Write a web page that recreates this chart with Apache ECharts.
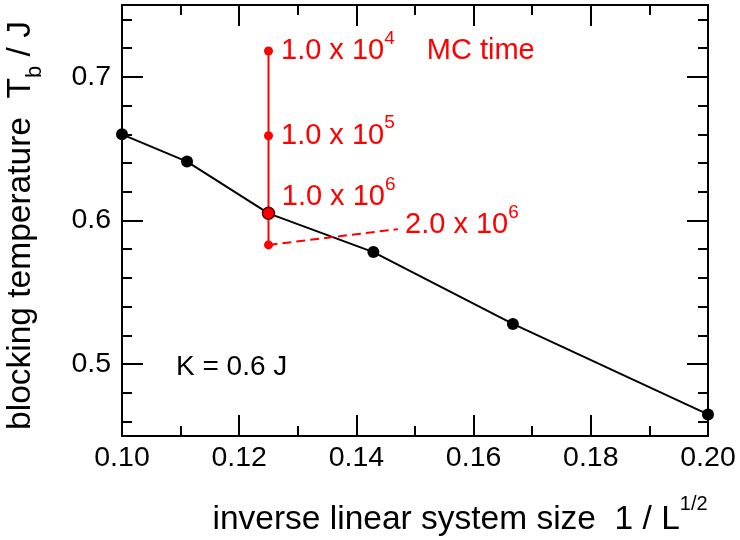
<!DOCTYPE html>
<html><head><meta charset="utf-8">
<script src="https://cdn.jsdelivr.net/npm/echarts@6/dist/echarts.min.js"></script>
<style>html,body{margin:0;padding:0;background:#fff}#c{width:740px;height:540px}</style>
</head><body><div id="c"></div>
<script>
const xMajorTicks = [0.10, 0.12, 0.14, 0.16, 0.18, 0.20];
const xMinorTicks = [0.11, 0.13, 0.15, 0.17, 0.19];
const yMajorTicks = [0.5, 0.6, 0.7];
const yMinorTicks = [0.46, 0.48, 0.52, 0.54, 0.56, 0.58, 0.62, 0.64, 0.66, 0.68, 0.72, 0.74];

const sizeX = [0.1000, 0.1111, 0.1250, 0.1429, 0.1667, 0.2000];
const blockingT = [0.660, 0.641, 0.605, 0.578, 0.528, 0.465];

const mcX = [0.125, 0.125, 0.125, 0.125];
const mcT = [0.718, 0.659, 0.605, 0.583];
const mcLabels = ['1.0 x 10{sup|4}{gap|MC time}', '1.0 x 10{sup|5}', '1.0 x 10{sup|6}', ''];

const dashX = [0.125, 0.1471];
const dashT = [0.583, 0.594];
const dashLabel = '2.0 x 10{sup|6}';

const annotation = 'K = 0.6 J';
const xTitle = 'inverse linear system size  1 / L{sup|1/2}';
const yTitle = 'blocking temperature  T{sub|b} / J';

const FONT = '"Liberation Sans", Arial, Helvetica, sans-serif';
const RED = '#ff0000';
const BLACK = '#000';

const chart = echarts.init(document.getElementById('c'), null, {renderer: 'canvas'});

const gridBox = {left: 122, right: 32, top: 5, bottom: 104, containLabel: false, outerBoundsMode: 'none'};
const lineSt = {color: BLACK, width: 2};

function xAx(grid, pos, ticks, len, labels, lineShow) {
  return {
    type: 'value', gridIndex: grid, position: pos, min: 0.1, max: 0.2,
    axisLine: {show: lineShow, onZero: false, lineStyle: lineSt},
    axisTick: {show: true, inside: true, length: len, customValues: ticks, lineStyle: lineSt},
    axisLabel: labels ? {show: true, customValues: ticks, fontSize: 28.5, lineHeight: 28.5, margin: 8,
      color: BLACK, fontFamily: FONT, formatter: v => v.toFixed(2)} : {show: false},
    splitLine: {show: false}
  };
}
function yAx(grid, pos, ticks, len, labels, lineShow) {
  return {
    type: 'value', gridIndex: grid, position: pos, min: 0.45, max: 0.75,
    axisLine: {show: lineShow, onZero: false, lineStyle: lineSt},
    axisTick: {show: true, inside: true, length: len, customValues: ticks, lineStyle: lineSt},
    axisLabel: labels ? {show: true, customValues: ticks, fontSize: 28.5, margin: 11,
      color: BLACK, fontFamily: FONT, formatter: v => v.toFixed(1)} : {show: false},
    splitLine: {show: false}
  };
}

const xAxes = [
  xAx(0, 'bottom', xMajorTicks, 21, true, true),
  xAx(0, 'top', xMajorTicks, 21, false, true),
  xAx(1, 'bottom', xMinorTicks, 10, false, false),
  xAx(1, 'top', xMinorTicks, 10, false, false)
];
Object.assign(xAxes[0], {
  name: xTitle, nameLocation: 'middle', nameGap: 58,
  nameTextStyle: {fontSize: 33.5, lineHeight: 52, color: BLACK, fontFamily: FONT, padding: [0, 0, 0, 90],
    rich: {sup: {fontSize: 20, lineHeight: 20, verticalAlign: 'top', color: BLACK, fontFamily: FONT}}}
});
const yAxes = [
  yAx(0, 'left', yMajorTicks, 21, true, true),
  yAx(0, 'right', yMajorTicks, 21, false, true),
  yAx(1, 'left', yMinorTicks, 10, false, false),
  yAx(1, 'right', yMinorTicks, 10, false, false)
];
Object.assign(yAxes[0], {
  name: yTitle, nameLocation: 'middle', nameGap: 76, nameRotate: 90,
  nameTextStyle: {fontSize: 33.5, lineHeight: 50, color: BLACK, fontFamily: FONT, padding: [0, 10, 0, 0],
    rich: {sub: {fontSize: 22, lineHeight: 22, verticalAlign: 'bottom', color: BLACK, fontFamily: FONT}}}
});

const redRich = {
  sup: {fontSize: 19, lineHeight: 19, verticalAlign: 'top', color: RED, fontFamily: FONT},
  gap: {fontSize: 29, lineHeight: 44, padding: [0, 0, 0, 32], color: RED, fontFamily: FONT}
};
const redLabelBase = {show: true, position: 'right', fontSize: 29, lineHeight: 44, color: RED,
  fontFamily: FONT, rich: redRich};

const mcData = mcX.map((x, i) => {
  const item = {value: [x, mcT[i]]};
  if (mcLabels[i]) {
    item.label = Object.assign({}, redLabelBase, {formatter: mcLabels[i], distance: 8});
  } else {
    item.label = {show: false};
  }
  if (i === 2) {
    item.symbolSize = 12;
    item.itemStyle = {color: RED, borderColor: '#5a0000', borderWidth: 1.5};
    item.label.distance = 6.5;
    item.label.offset = [0, -16];
  }
  return item;
});

const option = {
  animation: false,
  backgroundColor: '#fff',
  grid: [Object.assign({}, gridBox), Object.assign({}, gridBox)],
  xAxis: xAxes,
  yAxis: yAxes,
  series: [
    {
      type: 'line', xAxisIndex: 0, yAxisIndex: 0,
      data: sizeX.map((x, i) => [x, blockingT[i]]),
      symbol: 'circle', symbolSize: 12, clip: false,
      itemStyle: {color: BLACK}, lineStyle: {color: BLACK, width: 2}, z: 2
    },
    {
      type: 'line', xAxisIndex: 0, yAxisIndex: 0,
      data: dashX.map((x, i) => [x, dashT[i]]),
      symbol: 'none', clip: false,
      lineStyle: {color: RED, width: 2, type: [9, 5]},
      endLabel: Object.assign({}, redLabelBase, {formatter: dashLabel, distance: 7, offset: [0, -4]}),
      z: 3
    },
    {
      type: 'line', xAxisIndex: 0, yAxisIndex: 0,
      data: mcData,
      symbol: 'circle', symbolSize: 9, clip: false,
      itemStyle: {color: RED}, lineStyle: {color: RED, width: 2}, z: 4
    }
  ],
  graphic: [
    {type: 'text', x: 176, y: 367, z: 10,
      style: {text: annotation, fontSize: 28, fontFamily: FONT, fill: BLACK, verticalAlign: 'middle'}}
  ]
};
chart.setOption(option);
</script>
</body></html>
